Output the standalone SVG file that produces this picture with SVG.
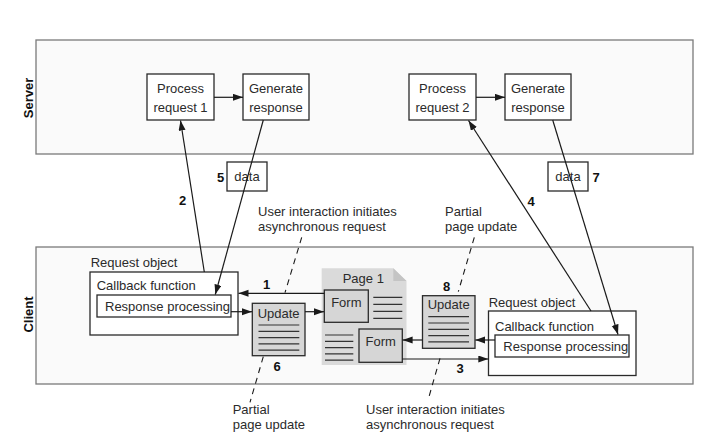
<svg xmlns="http://www.w3.org/2000/svg" width="717" height="448" viewBox="0 0 717 448">
<defs>
<marker id="ah" markerUnits="userSpaceOnUse" markerWidth="11" markerHeight="8" refX="10" refY="3.5" orient="auto"><path d="M0,0 L10,3.5 L0,7 z" fill="#1a1a1a"/></marker>
<style>
text{font-family:"Liberation Sans",Arial,sans-serif;font-size:13px;fill:#2b2b2b}
.b{font-weight:bold;fill:#111}
.m{text-anchor:middle}
.panel{fill:#fafafa;stroke:#7a7a7a;stroke-width:1.3}
.box{fill:#fff;stroke:#2a2a2a;stroke-width:1.3}
.gbox{fill:#d6d6d6;stroke:#2a2a2a;stroke-width:1.3}
.ln{stroke:#333;stroke-width:1.2}
.c{stroke:#1a1a1a;stroke-width:1.2;fill:none;marker-end:url(#ah)}
.d{stroke:#1a1a1a;stroke-width:1.1;fill:none;stroke-dasharray:6,5}
</style>
</defs>
<rect width="717" height="448" fill="#fff"/>
<g id="server-panel">
<rect class="panel" x="36" y="40" width="657" height="114"/>
<text class="b m" font-size="13.5" transform="translate(33,98) rotate(-90)">Server</text>
</g>
<g id="client-panel">
<rect class="panel" x="36" y="247" width="657" height="137"/>
<text class="b m" font-size="13.5" transform="translate(33,314.5) rotate(-90)">Client</text>
</g>
<g id="process1">
<rect class="box" x="147" y="74" width="67" height="46"/>
<text class="m" x="180.5" y="92.5">Process</text>
<text class="m" x="180.5" y="111.5">request 1</text>
</g>
<g id="generate1">
<rect class="box" x="243" y="74" width="66" height="46"/>
<text class="m" x="276" y="92.5">Generate</text>
<text class="m" x="276" y="111.5">response</text>
</g>
<g id="process2">
<rect class="box" x="409" y="74" width="67" height="46"/>
<text class="m" x="442.5" y="92.5">Process</text>
<text class="m" x="442.5" y="111.5">request 2</text>
</g>
<g id="generate2">
<rect class="box" x="505" y="74" width="66" height="46"/>
<text class="m" x="538" y="92.5">Generate</text>
<text class="m" x="538" y="111.5">response</text>
</g>
<g id="data1">
<rect class="box" x="227" y="162" width="40" height="29"/>
<text class="m" x="247" y="181">data</text>
<text class="b m" x="220.5" y="181.5">5</text>
</g>
<g id="data2">
<rect class="box" x="548" y="162" width="40" height="29"/>
<text class="m" x="568" y="181">data</text>
<text class="b m" x="596" y="181.5">7</text>
</g>
<g id="request-object-1">
<text x="90.7" y="266.7">Request object</text>
<rect class="box" x="90" y="272" width="148" height="63"/>
<text x="96.7" y="289.5">Callback function</text>
<rect class="box" x="97" y="295" width="134" height="22"/>
<text x="105" y="310.5" font-size="12.5">Response processing</text>
</g>
<g id="request-object-2">
<text x="488.7" y="306.5">Request object</text>
<rect class="box" x="488.5" y="311" width="147.5" height="64.5"/>
<text x="495" y="330.5">Callback function</text>
<rect class="box" x="495" y="335" width="134" height="22"/>
<text x="503.3" y="350.5" font-size="12.5">Response processing</text>
</g>
<g id="update1">
<rect class="gbox" x="252.3" y="303.3" width="52.7" height="52.4"/>
<text class="m" x="278.6" y="317.5">Update</text>
<path class="ln" d="M258.5,325H299.3M258.5,331.3H299.3M258.5,337.6H299.3M258.5,343.9H299.3M258.5,350.2H299.3"/>
<text class="b m" x="277" y="371">6</text>
</g>
<g id="update2">
<rect class="gbox" x="422.5" y="295.7" width="52.5" height="52.6"/>
<text class="m" x="448.7" y="309.3">Update</text>
<path class="ln" d="M428.3,316.7H469M428.3,323H469M428.3,329.3H469M428.3,335.6H469M428.3,341.9H469"/>
<text class="b m" x="446.7" y="291">8</text>
</g>
<g id="page1">
<path d="M321.7,268.3H393.3L406.5,281V365H321.7Z" fill="#dadada"/>
<path d="M393.3,268.3V281H406.5Z" fill="#c4c4c4"/>
<text class="m" x="363.3" y="282.5">Page 1</text>
<path class="ln" d="M373.3,297.3H402.3M373.3,304.3H402.3M373.3,311.3H402.3M373.3,318.3H402.3"/>
<path class="ln" d="M325,335H353.3M325,341.3H353.3M325,347.6H353.3M325,353.9H353.3M325,360.2H353.3"/>
</g>
<g id="form1">
<rect class="gbox" x="324.3" y="290" width="44" height="32.3"/>
<text class="m" x="346.3" y="306.7">Form</text>
</g>
<g id="form2">
<rect class="gbox" x="359" y="329" width="43.3" height="33.3"/>
<text class="m" x="380.7" y="346">Form</text>
</g>
<g id="labels">
<text x="258" y="216">User interaction initiates</text>
<text x="258" y="231">asynchronous request</text>
<text x="445" y="215.5">Partial</text>
<text x="445" y="231">page update</text>
<text x="232.7" y="414">Partial</text>
<text x="232.7" y="429.3">page update</text>
<text x="366" y="414">User interaction initiates</text>
<text x="366" y="429.3">asynchronous request</text>
</g>
<g id="connectors">
<line class="c" x1="214" y1="97.3" x2="243" y2="97.3"/>
<line class="c" x1="476" y1="97.3" x2="505" y2="97.3"/>
<line class="c" x1="204.3" y1="272" x2="180.5" y2="120.5"/>
<line class="c" x1="263.3" y1="120" x2="215.3" y2="294.5"/>
<line class="c" x1="591" y1="311" x2="468.5" y2="120.5"/>
<line class="c" x1="552.7" y1="120" x2="618" y2="334.5"/>
<line class="c" x1="324.3" y1="293.3" x2="238.5" y2="293.3"/>
<line class="c" x1="231" y1="311.7" x2="252" y2="311.7"/>
<line class="c" x1="305" y1="311.7" x2="324" y2="311.7"/>
<line class="c" x1="402.3" y1="359" x2="488.3" y2="359"/>
<line class="c" x1="495" y1="340" x2="475.3" y2="340"/>
<line class="c" x1="422.5" y1="340" x2="402.6" y2="340"/>
<line class="d" x1="301.7" y1="237.3" x2="285" y2="292.7"/>
<line class="d" x1="474.3" y1="237.3" x2="458.3" y2="291.7"/>
<line class="d" x1="263.3" y1="356.7" x2="250" y2="402.3"/>
<line class="d" x1="440" y1="358.3" x2="429" y2="396.7"/>
<text class="b m" x="266.7" y="289">1</text>
<text class="b m" x="182.7" y="205">2</text>
<text class="b m" x="460" y="373">3</text>
<text class="b m" x="531" y="206">4</text>
</g>
</svg>
